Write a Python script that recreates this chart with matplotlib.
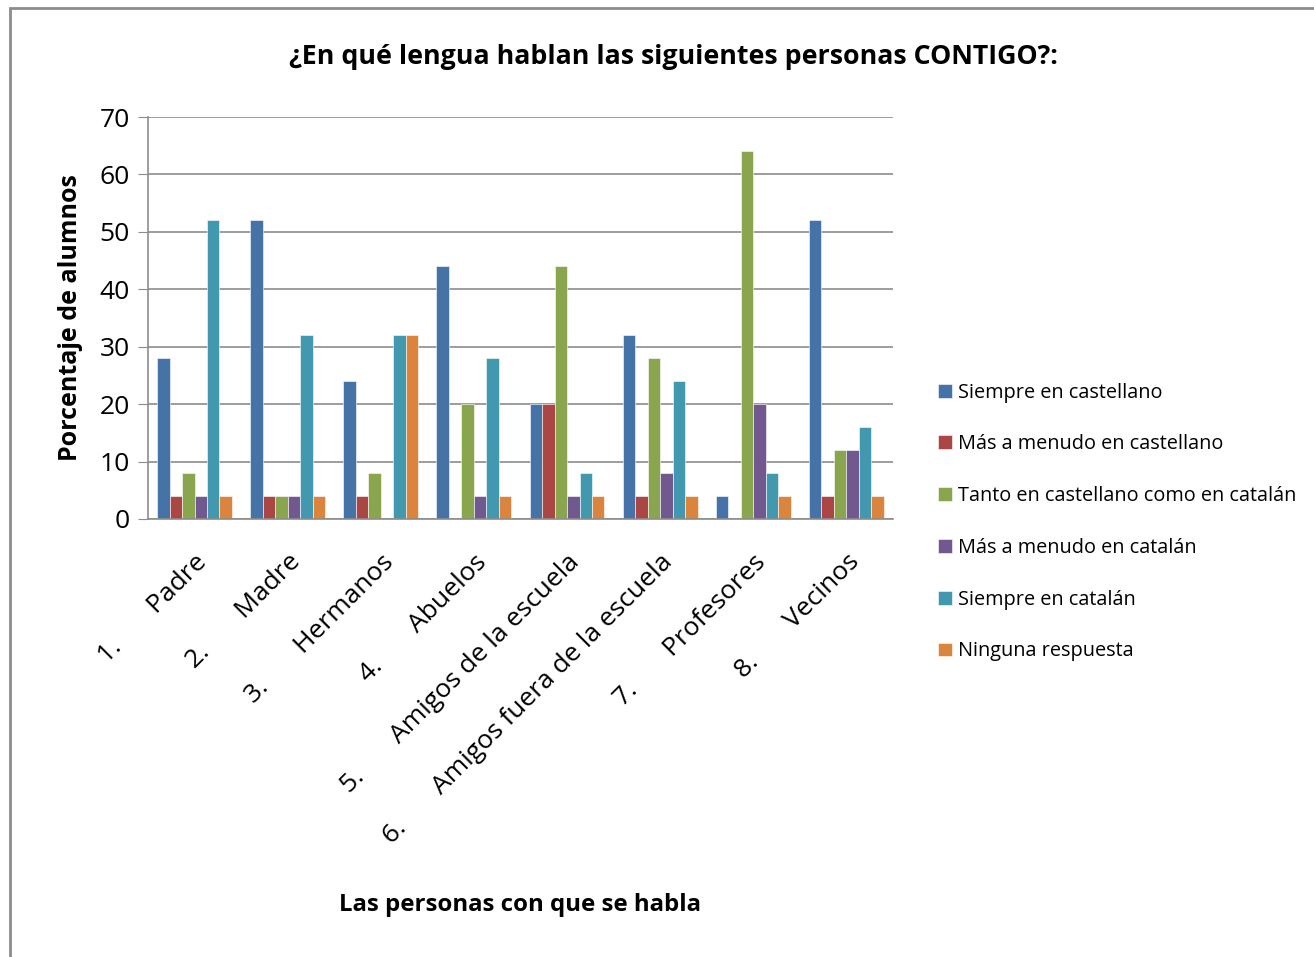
import numpy as np
import matplotlib.pyplot as plt
from matplotlib.patches import Rectangle

plt.rcParams['font.family'] = ['Open Sans', 'DejaVu Sans']

# Data
categories = ['1.       Padre', '2.       Madre', '3.       Hermanos',
              '4.       Abuelos', '5.       Amigos de la escuela',
              '6.       Amigos fuera de la escuela', '7.       Profesores',
              '8.       Vecinos']
series_names = ['Siempre en castellano', 'Más a menudo en castellano',
                'Tanto en castellano como en catalán', 'Más a menudo en catalán',
                'Siempre en catalán', 'Ninguna respuesta']
siempre_cast = [28, 52, 24, 44, 20, 32, 4, 52]
menudo_cast = [4, 4, 4, 0, 20, 4, 0, 4]
tanto = [8, 4, 8, 20, 44, 28, 64, 12]
menudo_cat = [4, 4, 0, 4, 4, 8, 20, 12]
siempre_cat = [52, 32, 32, 28, 8, 24, 8, 16]
ninguna = [4, 4, 32, 4, 4, 4, 4, 4]
values = [siempre_cast, menudo_cast, tanto, menudo_cat, siempre_cat, ninguna]
colors = ['#4572A7', '#AA4643', '#89A54E', '#71588F', '#4198AF', '#DB843D']

fig = plt.figure(figsize=(13.14, 9.57), dpi=100)
ax = fig.add_axes([0.1126, 0.4577, 0.567, 0.42])

x = np.arange(len(categories))
w = 0.134
for i, (vals, c, name) in enumerate(zip(values, colors, series_names)):
    ax.bar(x + (i - 2.5) * w, vals, w, color=c, label=name,
           edgecolor='white', linewidth=0.4)

ax.set_xlim(-0.5, len(categories) - 0.5)
ax.set_ylim(0, 70)
ax.set_yticks(range(0, 71, 10))
ax.yaxis.grid(True, color='#8c8c8c', linewidth=1.2)
ax.set_axisbelow(True)
for s in ['top', 'right']:
    ax.spines[s].set_visible(False)
for s in ['left', 'bottom']:
    ax.spines[s].set_color('#8c8c8c')
    ax.spines[s].set_linewidth(1.2)
ax.tick_params(axis='y', labelsize=19, length=7, color='#8c8c8c', pad=6)
ax.tick_params(axis='x', length=0, pad=22)
ax.set_xticks(x)
ax.set_xticklabels(categories, rotation=45, ha='right', rotation_mode='anchor',
                   fontsize=19)

ax.set_ylabel('Porcentaje de alumnos', fontsize=18, fontweight='bold', labelpad=12)
fig.text(520 / 1314, 1 - 905 / 957, 'Las personas con que se habla',
         fontsize=17.3, fontweight='bold', ha='center', va='center')
fig.text(673 / 1314, 1 - 57 / 957,
         '¿En qué lengua hablan las siguientes personas CONTIGO?:',
         fontsize=19.3, fontweight='bold', ha='center', va='center')

handles, labels = ax.get_legend_handles_labels()
fig.legend(handles, labels, loc='center left', bbox_to_anchor=(0.7065, 1 - 522 / 957),
           frameon=False, fontsize=14.3, labelspacing=1.6, handlelength=0.7,
           handleheight=0.7, handletextpad=0.3, borderpad=0)

fig.patches.append(Rectangle((10 / 1314, -0.01), 1.1, 1 - 8 / 957 + 0.01,
                             transform=fig.transFigure, fill=False,
                             edgecolor='#8c8c8c', linewidth=2))

fig.savefig('out.png', dpi=100)
